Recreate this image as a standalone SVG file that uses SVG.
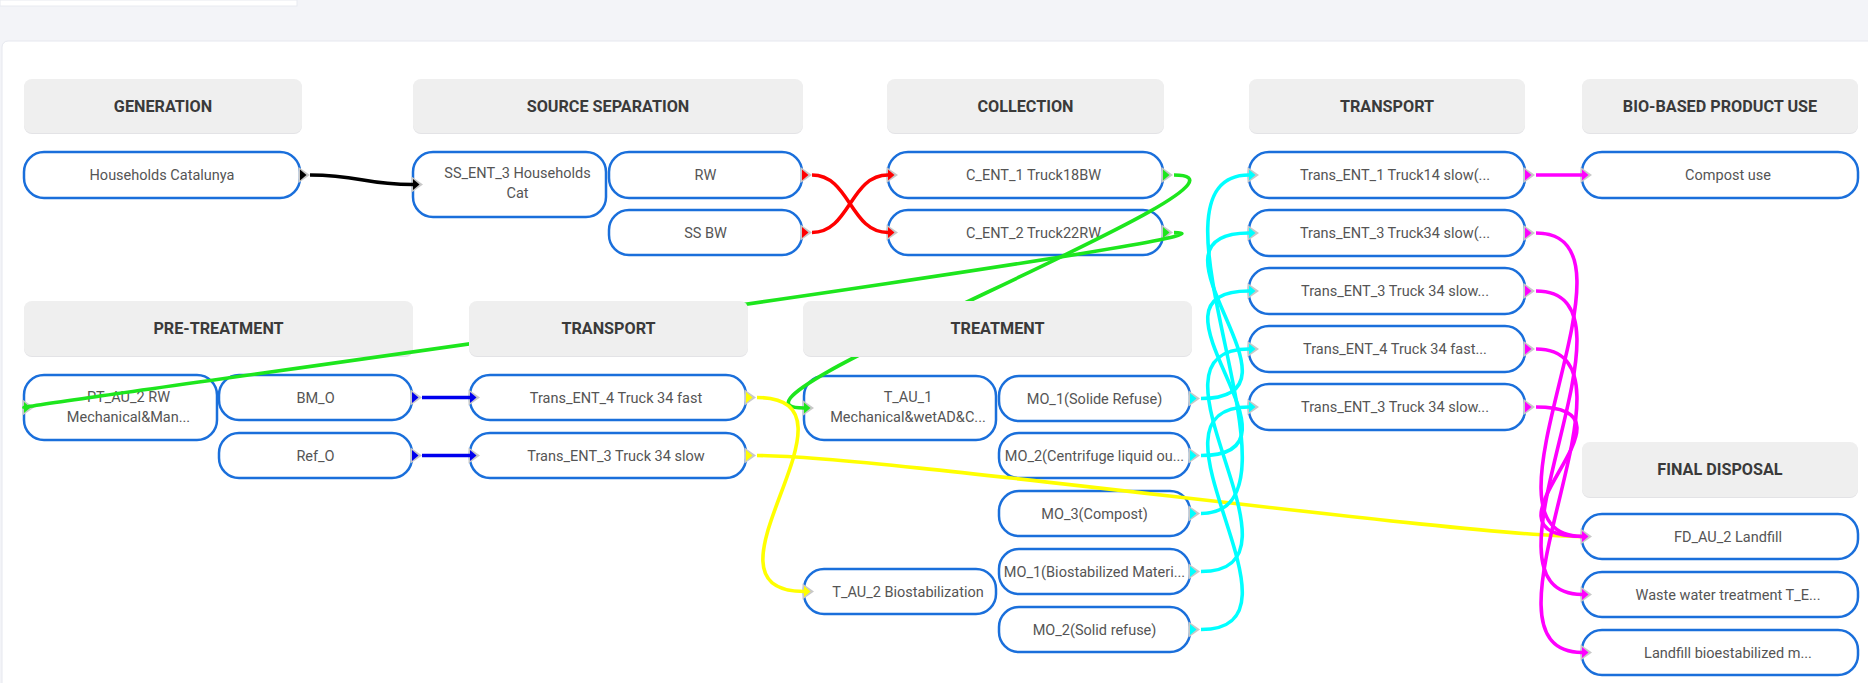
<svg xmlns="http://www.w3.org/2000/svg" width="1868" height="683" viewBox="0 0 1868 683">
<style>
.hdr .sh{fill:#e3e3e6}
.hdr .bg{fill:#efefef}
.hdr text{font-family:Roboto,"Liberation Sans",Arial,sans-serif;font-size:16.2px;font-weight:700;fill:#3a3a3a;text-anchor:middle}
.node rect{fill:#fff;stroke:#1a6fdb;stroke-width:2.5}
.node text{font-family:Roboto,"Liberation Sans",Arial,sans-serif;font-size:14.5px;fill:#555;text-anchor:middle}
.conn path{fill:none;stroke-width:3.6}
.k{stroke:#000}.r{stroke:#ff0000}.g{stroke:#1de61d}.b{stroke:#0000ee}.y{stroke:#ffff00}.c{stroke:#00ffff}.m{stroke:#ff00ff}
</style>
<defs>
<g id="port"><polygon points="-1.5,-8 10,0 -1.5,8" fill="#c8c8c8"/><polygon points="0,-5.5 6.5,0 0,5.5" fill="currentColor"/></g>
</defs>
<rect x="0" y="0" width="1868" height="683" fill="#f3f4f8"/>
<rect x="0" y="0" width="297" height="6" fill="#fff" stroke="#e8eaf0" stroke-width="1"/>
<rect x="2" y="41" width="1880" height="700" rx="6" fill="#fff" stroke="#e6e8ef"/>

<g id="hdr-generation" class="hdr"><rect class="sh" x="24" y="80" width="278" height="54" rx="8"/><rect class="bg" x="24" y="79" width="278" height="54" rx="8"/><text x="163" y="111.5">GENERATION</text></g>
<g id="hdr-source-separation" class="hdr"><rect class="sh" x="413" y="80" width="390" height="54" rx="8"/><rect class="bg" x="413" y="79" width="390" height="54" rx="8"/><text x="608" y="111.5">SOURCE SEPARATION</text></g>
<g id="hdr-collection" class="hdr"><rect class="sh" x="887" y="80" width="277" height="54" rx="8"/><rect class="bg" x="887" y="79" width="277" height="54" rx="8"/><text x="1025.5" y="111.5">COLLECTION</text></g>
<g id="hdr-transport-1" class="hdr"><rect class="sh" x="1249" y="80" width="276" height="54" rx="8"/><rect class="bg" x="1249" y="79" width="276" height="54" rx="8"/><text x="1387" y="111.5">TRANSPORT</text></g>
<g id="hdr-bio-based" class="hdr"><rect class="sh" x="1582" y="80" width="276" height="54" rx="8"/><rect class="bg" x="1582" y="79" width="276" height="54" rx="8"/><text x="1720" y="111.5">BIO-BASED PRODUCT USE</text></g>
<g id="hdr-pre-treatment" class="hdr"><rect class="sh" x="24" y="302" width="389" height="55" rx="8"/><rect class="bg" x="24" y="301" width="389" height="55" rx="8"/><text x="218.5" y="334">PRE-TREATMENT</text></g>
<g id="hdr-final-disposal" class="hdr"><rect class="sh" x="1582" y="443" width="276" height="55" rx="8"/><rect class="bg" x="1582" y="442" width="276" height="55" rx="8"/><text x="1720" y="475">FINAL DISPOSAL</text></g>

<g id="n-households" class="node"><rect x="24" y="152" width="276" height="46" rx="20"/><text x="162" y="180">Households Catalunya</text><use href="#port" x="300" y="175" style="color:#000"/></g>
<g id="n-ss-ent-3" class="node"><rect x="413" y="152" width="193" height="65" rx="20"/><text x="517.5" y="178">SS_ENT_3 Households</text><text x="517.5" y="198">Cat</text><use href="#port" x="413" y="184.5" style="color:#000"/></g>
<g id="n-rw" class="node"><rect x="609" y="152" width="193" height="46" rx="20"/><text x="705.5" y="180">RW</text><use href="#port" x="802" y="175" style="color:#ff0000"/></g>
<g id="n-ss-bw" class="node"><rect x="609" y="210" width="193" height="45" rx="20"/><text x="705.5" y="237.5">SS BW</text><use href="#port" x="802" y="232.5" style="color:#ff0000"/></g>
<g id="n-c-ent-1" class="node"><rect x="888" y="152" width="275" height="46" rx="20"/><text x="1033.5" y="180">C_ENT_1 Truck18BW</text><use href="#port" x="888" y="175" style="color:#ff0000"/><use href="#port" x="1163" y="175" style="color:#1de61d"/></g>
<g id="n-c-ent-2" class="node"><rect x="888" y="210" width="275" height="45" rx="20"/><text x="1033.5" y="237.5">C_ENT_2 Truck22RW</text><use href="#port" x="888" y="232.5" style="color:#ff0000"/><use href="#port" x="1163" y="232.5" style="color:#1de61d"/></g>

<g id="n-trans-ent-1-truck14" class="node"><rect x="1249" y="152" width="276" height="46" rx="20"/><text x="1395" y="180">Trans_ENT_1 Truck14 slow(...</text><use href="#port" x="1249" y="175" style="color:#00ffff"/><use href="#port" x="1525" y="175" style="color:#ff00ff"/></g>
<g id="n-trans-ent-3-truck34a" class="node"><rect x="1249" y="210" width="276" height="46" rx="20"/><text x="1395" y="238">Trans_ENT_3 Truck34 slow(...</text><use href="#port" x="1249" y="233" style="color:#00ffff"/><use href="#port" x="1525" y="233" style="color:#ff00ff"/></g>
<g id="n-trans-ent-3-truck34b" class="node"><rect x="1249" y="268" width="276" height="46" rx="20"/><text x="1395" y="296">Trans_ENT_3 Truck 34 slow...</text><use href="#port" x="1249" y="291" style="color:#00ffff"/><use href="#port" x="1525" y="291" style="color:#ff00ff"/></g>
<g id="n-trans-ent-4-truck34" class="node"><rect x="1249" y="326" width="276" height="46" rx="20"/><text x="1395" y="354">Trans_ENT_4 Truck 34 fast...</text><use href="#port" x="1249" y="349" style="color:#00ffff"/><use href="#port" x="1525" y="349" style="color:#ff00ff"/></g>
<g id="n-trans-ent-3-truck34c" class="node"><rect x="1249" y="384" width="276" height="46" rx="20"/><text x="1395" y="412">Trans_ENT_3 Truck 34 slow...</text><use href="#port" x="1249" y="407" style="color:#00ffff"/><use href="#port" x="1525" y="407" style="color:#ff00ff"/></g>
<g id="n-compost-use" class="node"><rect x="1582" y="152" width="276" height="46" rx="20"/><text x="1728" y="180">Compost use</text><use href="#port" x="1582" y="175" style="color:#ff00ff"/></g>

<g id="n-pt-au-2" class="node"><rect x="24" y="375" width="193" height="65" rx="20"/><text x="128.5" y="402">PT_AU_2 RW</text><text x="128.5" y="422">Mechanical&amp;Man...</text><use href="#port" x="24" y="407.5" style="color:#1de61d"/></g>
<g id="n-bm-o" class="node"><rect x="219" y="375" width="193" height="45" rx="20"/><text x="315.5" y="402.5">BM_O</text><use href="#port" x="412" y="397.5" style="color:#0000ee"/></g>
<g id="n-ref-o" class="node"><rect x="219" y="433" width="193" height="45" rx="20"/><text x="315.5" y="460.5">Ref_O</text><use href="#port" x="412" y="455.5" style="color:#0000ee"/></g>
<g id="n-trans-ent-4-fast" class="node"><rect x="470" y="375" width="276" height="45" rx="20"/><text x="616" y="402.5">Trans_ENT_4 Truck 34 fast</text><use href="#port" x="470" y="397.5" style="color:#0000ee"/><use href="#port" x="746" y="397.5" style="color:#ffff00"/></g>
<g id="n-trans-ent-3-slow" class="node"><rect x="470" y="433" width="276" height="45" rx="20"/><text x="616" y="460.5">Trans_ENT_3 Truck 34 slow</text><use href="#port" x="470" y="455.5" style="color:#0000ee"/><use href="#port" x="746" y="455.5" style="color:#ffff00"/></g>

<g id="n-t-au-1" class="node"><rect x="804" y="376" width="192" height="64" rx="20"/><text x="908" y="402">T_AU_1</text><text x="908" y="422">Mechanical&amp;wetAD&amp;C...</text><use href="#port" x="804" y="408" style="color:#1de61d"/></g>
<g id="n-t-au-2" class="node"><rect x="804" y="569" width="192" height="45" rx="20"/><text x="908" y="596.5">T_AU_2 Biostabilization</text><use href="#port" x="804" y="591.5" style="color:#ffff00"/></g>
<g id="n-mo-1-solide" class="node"><rect x="999" y="376" width="191" height="45" rx="20"/><text x="1094.5" y="403.5">MO_1(Solide Refuse)</text><use href="#port" x="1190" y="398.5" style="color:#00ffff"/></g>
<g id="n-mo-2-centrifuge" class="node"><rect x="999" y="433" width="191" height="45" rx="20"/><text x="1094.5" y="460.5">MO_2(Centrifuge liquid ou...</text><use href="#port" x="1190" y="455.5" style="color:#00ffff"/></g>
<g id="n-mo-3-compost" class="node"><rect x="999" y="491" width="191" height="45" rx="20"/><text x="1094.5" y="518.5">MO_3(Compost)</text><use href="#port" x="1190" y="513.5" style="color:#00ffff"/></g>
<g id="n-mo-1-biostab" class="node"><rect x="999" y="549" width="191" height="45" rx="20"/><text x="1094.5" y="576.5">MO_1(Biostabilized Materi...</text><use href="#port" x="1190" y="571.5" style="color:#00ffff"/></g>
<g id="n-mo-2-solid" class="node"><rect x="999" y="607" width="191" height="45" rx="20"/><text x="1094.5" y="634.5">MO_2(Solid refuse)</text><use href="#port" x="1190" y="629.5" style="color:#00ffff"/></g>

<g id="n-fd-au-2" class="node"><rect x="1582" y="514" width="276" height="45" rx="20"/><text x="1728" y="541.5">FD_AU_2 Landfill</text><use href="#port" x="1582" y="536.5" style="color:#ff00ff"/></g>
<g id="n-wwt" class="node"><rect x="1582" y="572" width="276" height="45" rx="20"/><text x="1728" y="599.5">Waste water treatment T_E...</text><use href="#port" x="1582" y="594.5" style="color:#ff00ff"/></g>
<g id="n-landfill-bio" class="node"><rect x="1582" y="630" width="276" height="45" rx="20"/><text x="1728" y="657.5">Landfill bioestabilized m...</text><use href="#port" x="1582" y="652.5" style="color:#ff00ff"/></g>

<g id="connectors" class="conn">
<path class="k" d="M310,175 C360,175 363,184.5 413,184.5"/>
<path class="r" d="M812,175 C850,175 850,232.5 888,232.5"/>
<path class="r" d="M812,232.5 C850,232.5 850,175 888,175"/>
<path class="g" d="M1174,175 C1294,175 684,408 804,408"/>
<path class="g" d="M1174,232.5 C1294,232.5 16,406 24,407.5"/>
<path class="b" d="M422,397.5 L470,397.5"/>
<path class="b" d="M422,455.5 L470,455.5"/>
<path class="y" d="M757,397.5 C877,397.5 684,591.5 804,591.5"/>
<path class="y" d="M757,455.5 C877,455.5 1462,536.5 1582,536.5"/>
<path class="c" d="M1201,398.5 C1321,398.5 1129,233 1249,233"/>
<path class="c" d="M1201,455.5 C1321,455.5 1129,291 1249,291"/>
<path class="c" d="M1201,513.5 C1321,513.5 1129,175 1249,175"/>
<path class="c" d="M1201,571.5 C1321,571.5 1129,349 1249,349"/>
<path class="c" d="M1201,629.5 C1321,629.5 1129,407 1249,407"/>
<path class="m" d="M1536,175 L1582,175"/>
<path class="m" d="M1536,233 C1656,233 1462,536.5 1582,536.5"/>
<path class="m" d="M1536,291 C1656,291 1462,594.5 1582,594.5"/>
<path class="m" d="M1536,349 C1656,349 1462,652.5 1582,652.5"/>
<path class="m" d="M1536,407 C1656,407 1462,536.5 1582,536.5"/>
</g>

<g id="hdr-transport-2" class="hdr"><rect class="sh" x="469" y="302" width="279" height="55" rx="8"/><rect class="bg" x="469" y="301" width="279" height="55" rx="8"/><text x="608.5" y="334">TRANSPORT</text></g>
<g id="hdr-treatment" class="hdr"><rect class="sh" x="803" y="302" width="389" height="55" rx="8"/><rect class="bg" x="803" y="301" width="389" height="55" rx="8"/><text x="997.5" y="334">TREATMENT</text></g>
</svg>
